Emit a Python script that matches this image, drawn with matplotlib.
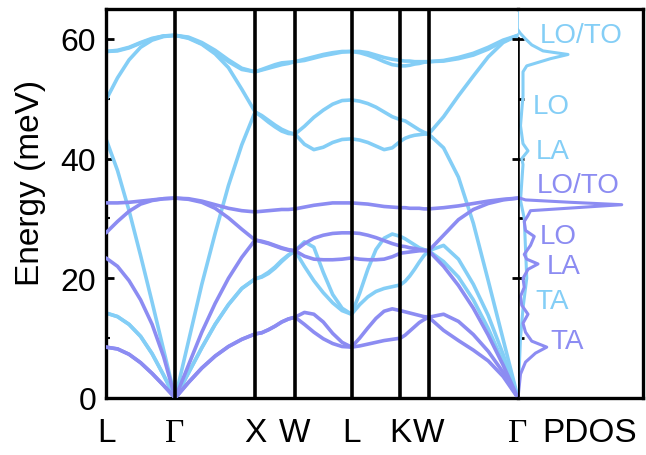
import numpy as np
import matplotlib
matplotlib.use('Agg')
import matplotlib.pyplot as plt
from matplotlib.ticker import MultipleLocator

plt.rcParams['font.family'] = ['Liberation Sans', 'DejaVu Sans']

# camino de alta simetria (fcc) y longitudes de cada tramo
puntos = ['L', 'Γ', 'X', 'W', 'L', 'K', 'W', 'Γ']
tramos = [0.866, 1.0, 0.5, 0.707, 0.612, 0.354, 1.118]

sky_ta1 = [14.2, 13.6, 12.3, 10.3, 7.4, 3.8, 0,
           4.2, 8.4, 12.3, 15.6, 18.3, 19.9,
           20.2, 20.8, 21.7, 22.8, 23.8, 24.6,
           22.0, 19.6, 17.6, 15.9, 14.6, 14.0,
           15.6, 16.9, 17.8, 18.3, 18.6, 18.9,
           19.5, 20.4, 21.5, 22.7, 23.8, 24.6,
           22.8, 20.2, 16.4, 11.6, 6.0, 0]
sky_ta2 = [14.2, 13.6, 12.3, 10.3, 7.4, 3.8, 0,
           4.2, 8.4, 12.3, 15.6, 18.3, 19.9,
           20.3, 21.0, 21.9, 23.0, 23.9, 24.6,
           26.1, 25.2, 21.0, 17.3, 15.0, 14.0,
           17.5, 21.5, 24.8, 26.7, 27.4, 27.0,
           26.6, 26.1, 25.6, 25.1, 24.8, 24.6,
           25.5, 23.2, 19.0, 13.8, 7.3, 0]
sky_la = [43.3, 38.0, 31.3, 23.8, 16.0, 8.0, 0,
          9.5, 19.0, 27.5, 35.5, 42.3, 47.8,
          47.0, 46.1, 45.3, 44.6, 44.2, 44.1,
          42.4, 41.5, 41.9, 42.7, 43.2, 43.3,
          43.1, 42.7, 42.1, 41.5, 41.8, 42.9,
          43.4, 43.7, 43.9, 44.0, 44.1, 44.1,
          41.8, 36.9, 29.2, 19.6, 9.8, 0]
sky_lo = [49.8, 53.5, 56.5, 58.6, 59.8, 60.4, 60.6,
          60.1, 59.1, 57.5, 55.2, 51.6, 47.8,
          47.2, 46.4, 45.6, 44.9, 44.4, 44.1,
          45.4, 46.9, 48.1, 49.1, 49.7, 49.8,
          49.6, 49.2, 48.6, 47.8, 47.0, 46.5,
          46.3, 45.8, 45.3, 44.8, 44.4, 44.1,
          47.0, 50.5, 53.8, 57.0, 59.4, 60.6]
sky_to1 = [57.9, 58.0, 58.5, 59.3, 60.0, 60.5, 60.6,
           60.2, 59.2, 57.8, 56.2, 54.9, 54.5,
           54.8, 55.1, 55.4, 55.7, 55.9, 56.2,
           56.4, 56.8, 57.2, 57.5, 57.8, 57.9,
           57.7, 57.3, 56.8, 56.2, 55.7, 55.5,
           55.5, 55.6, 55.8, 55.9, 56.1, 56.2,
           56.3, 56.7, 57.3, 58.3, 59.6, 60.6]
sky_to2 = [57.9, 58.1, 58.6, 59.4, 60.1, 60.5, 60.6,
           60.3, 59.4, 58.1, 56.5, 55.1, 54.5,
           54.9, 55.3, 55.7, 56.0, 56.1, 56.2,
           56.6, 57.0, 57.4, 57.7, 57.9, 57.9,
           57.9, 57.7, 57.3, 56.9, 56.6, 56.4,
           56.3, 56.3, 56.2, 56.2, 56.2, 56.2,
           56.4, 56.9, 57.6, 58.6, 59.8, 60.6]

pur_ta1 = [8.5, 8.2, 7.3, 5.9, 4.1, 2.1, 0,
           2.6, 5.0, 7.0, 8.6, 9.8, 10.7,
           10.9, 11.4, 12.0, 12.7, 13.2, 13.5,
           12.3, 11.0, 9.9, 9.1, 8.6, 8.5,
           8.7, 9.0, 9.3, 9.6, 9.8, 10.0,
           10.5, 11.2, 11.9, 12.6, 13.1, 13.5,
           11.3, 9.6, 8.0, 6.2, 3.6, 0]
pur_ta2 = [8.5, 8.2, 7.3, 5.9, 4.1, 2.1, 0,
           2.6, 5.0, 7.0, 8.6, 9.8, 10.7,
           10.9, 11.4, 12.0, 12.7, 13.2, 13.5,
           14.3, 14.0, 12.7, 10.8, 9.3, 8.5,
           10.0, 11.7, 13.3, 14.5, 14.9, 14.6,
           14.4, 14.2, 14.0, 13.8, 13.6, 13.5,
           14.0, 12.8, 10.6, 7.8, 4.3, 0]
pur_la = [23.4, 22.0, 19.6, 16.4, 12.3, 6.9, 0,
          5.5, 11.0, 15.8, 20.0, 23.5, 26.4,
          26.1, 25.8, 25.4, 25.0, 24.7, 24.6,
          23.7, 23.2, 23.1, 23.1, 23.2, 23.4,
          23.2, 23.1, 23.1, 23.2, 23.6, 24.2,
          24.3, 24.4, 24.5, 24.6, 24.6, 24.6,
          22.0, 18.8, 15.0, 10.5, 5.5, 0]
pur_lo = [27.6, 29.5, 31.2, 32.4, 33.0, 33.3, 33.4,
          33.2, 32.7, 31.7, 30.1, 28.2, 26.4,
          26.2, 25.9, 25.5, 25.1, 24.8, 24.6,
          25.8, 26.7, 27.2, 27.5, 27.6, 27.6,
          27.5, 27.2, 26.8, 26.3, 25.8, 25.4,
          25.3, 25.1, 25.0, 24.8, 24.7, 24.6,
          27.2, 29.8, 31.5, 32.5, 33.1, 33.4]
pur_to = [32.6, 32.6, 32.7, 32.9, 33.1, 33.3, 33.4,
          33.3, 32.9, 32.3, 31.7, 31.3, 31.1,
          31.2, 31.3, 31.4, 31.5, 31.5, 31.6,
          31.9, 32.2, 32.4, 32.6, 32.6, 32.6,
          32.5, 32.4, 32.2, 32.0, 31.9, 31.8,
          31.8, 31.7, 31.7, 31.7, 31.6, 31.6,
          31.8, 32.1, 32.5, 32.9, 33.2, 33.4]

# PDOS (energia en meV, densidad en unidades arbitrarias)
pdos_sky_e = [0, 5, 10, 15, 20, 25, 30, 33, 36, 39, 40, 41.3, 42.5, 45.5,
              50.5, 54.5, 55.5, 56.7, 57.4, 58.0, 59.0, 60.0, 60.9, 61.5]
pdos_sky = [0, 0.01, 0.02, 0.04, 0.07, 0.06, 0.05, 0.02, 0.03, 0.04, 0.03,
            0.08, 0.04, 0.02, 0.04, 0.04, 0.07, 0.26, 0.40, 0.20, 0.11, 0.06,
            0.02, 0]
pdos_pur_e = [0, 2, 4, 6, 7.5, 8.5, 9.5, 11, 12.5, 14, 15.5, 17, 18.5, 20,
              21.5, 22.4, 23.2, 24, 25.5, 27, 28, 29.5, 30.5, 31.3, 32.3,
              32.7, 33.1, 33.5]
pdos_pur = [0, 0.01, 0.02, 0.06, 0.14, 0.23, 0.11, 0.06, 0.04, 0.08, 0.03,
            0.02, 0.05, 0.04, 0.08, 0.16, 0.07, 0.05, 0.10, 0.13, 0.06, 0.05,
            0.08, 0.10, 0.83, 0.42, 0.06, 0]

etiquetas_pdos = [('LO/TO', 0.17, 60.6, 'sky'), ('LO', 0.12, 48.8, 'sky'),
                  ('LA', 0.14, 41.3, 'sky'), ('LO/TO', 0.15, 35.6, 'pur'),
                  ('LO', 0.17, 27.1, 'pur'), ('LA', 0.23, 22.0, 'pur'),
                  ('TA', 0.14, 16.2, 'sky'), ('TA', 0.26, 9.5, 'pur')]

c_sky = '#84CEF6'
c_pur = '#8C8CF2'

# posiciones k
nodos = np.concatenate([[0], np.cumsum(tramos)])
k = [0.0]
for a, b in zip(nodos[:-1], nodos[1:]):
    k.extend(np.linspace(a, b, 7)[1:])
k = np.array(k)

fig = plt.figure(figsize=(6.46, 4.56), dpi=100)
ax = fig.add_axes([106/646, 57/456, 412/646, 389/456])
axd = fig.add_axes([518/646, 57/456, 125/646, 389/456])

for banda in [sky_ta1, sky_ta2, sky_la, sky_lo, sky_to1, sky_to2]:
    ax.plot(k, banda, color=c_sky, lw=2.6, solid_capstyle='round',
            solid_joinstyle='round', zorder=2)
for banda in [pur_ta1, pur_ta2, pur_la, pur_lo, pur_to]:
    ax.plot(k, banda, color=c_pur, lw=2.6, solid_capstyle='round',
            solid_joinstyle='round', zorder=3)

for x in nodos[1:-1]:
    ax.axvline(x, color='black', lw=2.6, zorder=4)

ax.set_xlim(nodos[0], nodos[-1])
ax.set_ylim(0, 65)
ax.set_xticks(nodos)
ax.set_xticklabels(puntos)
for t in ax.get_xticklabels():
    if t.get_text() == 'Γ':
        t.set_fontfamily('Liberation Serif')
ax.tick_params(axis='x', length=0, labelsize=24, pad=14)
ax.set_yticks([0, 20, 40, 60])
ax.yaxis.set_minor_locator(MultipleLocator(10))
ax.tick_params(axis='y', which='major', direction='in', length=6, width=2,
               labelsize=23, pad=7)
ax.tick_params(axis='y', which='minor', direction='in', length=3, width=1.5)
ax.set_ylabel('Energy (meV)', fontsize=24)
ax.yaxis.set_label_coords(-0.145, 0.555)
ax.spines['right'].set_visible(False)
for s in ['top', 'left', 'bottom']:
    ax.spines[s].set_linewidth(2.4)

# panel PDOS
axd.plot(pdos_sky, pdos_sky_e, color=c_sky, lw=2.2, solid_joinstyle='round', zorder=2)
axd.plot(pdos_pur, pdos_pur_e, color=c_pur, lw=2.2, solid_joinstyle='round', zorder=3)
axd.axvline(0, color=c_sky, lw=1.2, zorder=1)
axd.axvline(0, ymax=60/65, color='black', lw=2.6, zorder=4)
axd.set_xlim(0, 1)
axd.set_ylim(0, 65)
axd.set_yticks([0, 20, 40, 60])
axd.set_yticklabels([])
axd.yaxis.set_minor_locator(MultipleLocator(10))
axd.tick_params(axis='y', which='major', direction='inout', length=9, width=2)
axd.tick_params(axis='y', which='minor', direction='in', length=4, width=2)
axd.set_xticks([0.576])
axd.set_xticklabels(['PDOS'])
axd.tick_params(axis='x', length=0, labelsize=24, pad=14)
axd.spines['left'].set_visible(False)
for s in ['top', 'right', 'bottom']:
    axd.spines[s].set_linewidth(2.4)

for texto, x, y, col in etiquetas_pdos:
    axd.text(x, y, texto, color=c_sky if col == 'sky' else c_pur,
             fontsize=20, ha='left', va='center', zorder=5)

fig.savefig('out.png', dpi=100)
